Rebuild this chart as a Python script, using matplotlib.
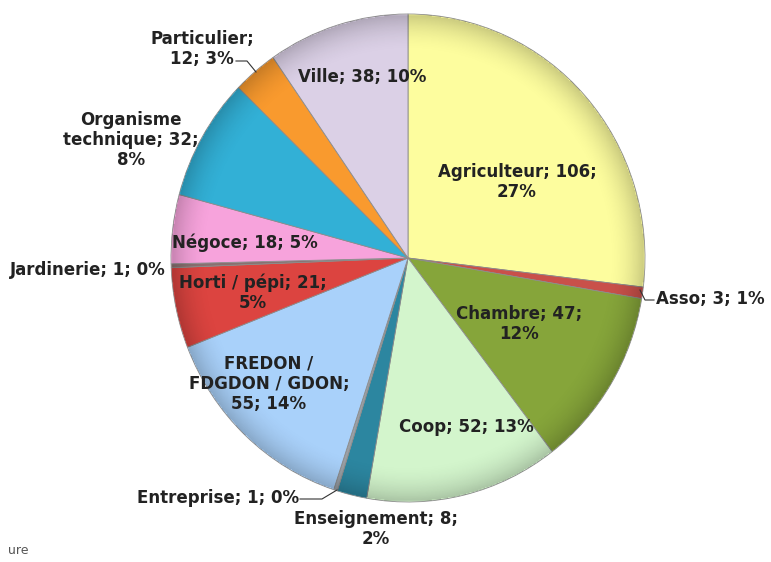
import matplotlib.pyplot as plt
import numpy as np

W, H = 771, 562

labels = ["Agriculteur", "Asso", "Chambre", "Coop", "Enseignement", "Entreprise",
          "FREDON /\nFDGDON / GDON", "Horti / pépi", "Jardinerie", "Négoce",
          "Organisme\ntechnique", "Particulier", "Ville"]
values = [106, 3, 47, 52, 8, 1, 55, 21, 1, 18, 32, 12, 38]
colors = ["#fdfd9e", "#c9504a", "#86a53a", "#d3f5cc", "#2c86a0", "#9aa0a6",
          "#a9d1fa", "#dc4440", "#8a7070", "#f7a3dc", "#32b0d6", "#f99a2e", "#dbd0e6"]

# label text and pixel centres (x, y from top)
label_text = [
    "Agriculteur; 106;\n27%",
    "Asso; 3; 1%",
    "Chambre; 47;\n12%",
    "Coop; 52; 13%",
    "Enseignement; 8;\n2%",
    "Entreprise; 1; 0%",
    "FREDON /\nFDGDON / GDON;\n55; 14%",
    "Horti / pépi; 21;\n5%",
    "Jardinerie; 1; 0%",
    "Négoce; 18; 5%",
    "Organisme\ntechnique; 32;\n8%",
    "Particulier;\n12; 3%",
    "Ville; 38; 10%",
]
label_pos = [(517, 182), (710, 299), (519, 324), (466, 427), (376, 529), (218, 498),
             (269, 384), (253, 293), (88, 270), (245, 243), (131, 140), (202, 49), (362, 77)]

fig = plt.figure(figsize=(W / 100, H / 100), dpi=100)
cx, cy, rx, ry = 408, 258, 237, 244
ax = fig.add_axes([(cx - rx) / W, (H - cy - ry) / H, 2 * rx / W, 2 * ry / H])

wedges, _ = ax.pie(values, colors=colors, startangle=90, counterclock=False,
                   radius=1, wedgeprops=dict(edgecolor="#8c8c8c", linewidth=0.6))
ax.set_aspect("auto")

# soft rim shading like the office bevel
n = 400
yy, xx = np.mgrid[-1:1:n * 1j, -1:1:n * 1j]
rr = np.sqrt(xx ** 2 + yy ** 2)
shade = np.zeros((n, n, 4))
alpha = np.clip((rr - 0.84) / 0.16, 0, 1) ** 2 * 0.2
alpha[rr > 1] = 0
shade[..., 3] = alpha
ax.imshow(shade, extent=(-1, 1, -1, 1), origin="lower", zorder=3, aspect="auto")
ax.set_xlim(-1.0, 1.0)
ax.set_ylim(-1.0, 1.0)
ax.axis("off")

for txt, (px, py) in zip(label_text, label_pos):
    fig.text(px / W, 1 - py / H, txt, ha="center", va="center", fontsize=12,
             fontweight="bold", color="#222222", linespacing=1.15, zorder=5)

# leader lines
def line(pts):
    xs = [p[0] / W for p in pts]
    ys = [1 - p[1] / H for p in pts]
    fig.add_artist(plt.Line2D(xs, ys, color="#333333", lw=0.8))

line([(236, 61), (247, 61), (256, 72)])
line([(640, 290), (645, 300), (654, 300)])
line([(300, 499), (322, 499), (337, 490)])

fig.text(8 / W, 1 - 551 / H, "ure", fontsize=9, color="#555555", va="center")

fig.savefig("out.png", dpi=100)
